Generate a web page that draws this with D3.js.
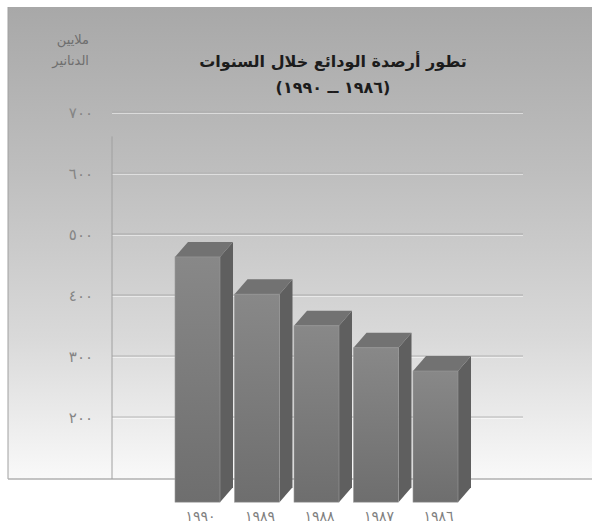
<!DOCTYPE html>
<html>
<head>
<meta charset="utf-8">
<script src="https://cdn.jsdelivr.net/npm/d3@7"></script>
<style>
  body { margin: 0; padding: 0; background: #fff; }
  text { font-family: "DejaVu Sans", sans-serif; }
</style>
</head>
<body>
<div id="chart"></div>
<script>
// data (millions of dinars)
const years = ["1986", "1987", "1988", "1989", "1990"];
const yearLabels = ["١٩٨٦", "١٩٨٧", "١٩٨٨", "١٩٨٩", "١٩٩٠"];
const deposits = [300, 338, 374, 426, 487];
const tickValues = [200, 300, 400, 500, 600, 700];
const tickLabels = ["٢٠٠", "٣٠٠", "٤٠٠", "٥٠٠", "٦٠٠", "٧٠٠"];
const titleLines = ["تطور أرصدة الودائع خلال السنوات", "(١٩٨٦ ــ ١٩٩٠)"];
const unitLines = ["ملايين", "الدنانير"];

const width = 592, height = 530;
const baseValue = 85;      // bars run down below the chart floor
const depthX = 13, depthY = 15;

const svg = d3.select('#chart').append('svg')
    .attr('width', width).attr('height', height);

const defs = svg.append('defs');
const bg = defs.append('linearGradient').attr('id', 'bg')
    .attr('x1', 0).attr('y1', 0).attr('x2', 0).attr('y2', 1);
bg.append('stop').attr('offset', '0%').attr('stop-color', '#a8a8a8');
bg.append('stop').attr('offset', '35%').attr('stop-color', '#bebebe');
bg.append('stop').attr('offset', '70%').attr('stop-color', '#d9d9d9');
bg.append('stop').attr('offset', '100%').attr('stop-color', '#f9f9f9');

const front = defs.append('linearGradient').attr('id', 'front')
    .attr('x1', 0).attr('y1', 0).attr('x2', 0).attr('y2', 1);
front.append('stop').attr('offset', '0%').attr('stop-color', '#888888');
front.append('stop').attr('offset', '100%').attr('stop-color', '#6e6e6e');

// x: right-to-left, 1990 on the left
const x = d3.scaleBand()
    .domain(years.slice().reverse())
    .range([175, 458])
    .paddingInner(0.2437)
    .paddingOuter(0);

const y = d3.scaleLinear().domain([200, 700]).range([417, 112]);

// panel
svg.append('rect')
    .attr('x', 8).attr('y', 7)
    .attr('width', width - 8).attr('height', 472)
    .attr('fill', 'url(#bg)');
svg.append('line')
    .attr('x1', 8).attr('x2', 8).attr('y1', 7).attr('y2', 479)
    .attr('stroke', '#a0a0a0');
svg.append('line')
    .attr('x1', 8).attr('x2', width).attr('y1', 479).attr('y2', 479)
    .attr('stroke', '#b0b0b0').attr('stroke-width', 1.5);

// gridlines
const grid = svg.append('g');
grid.selectAll('line.g')
    .data(tickValues)
    .enter().append('line')
    .attr('class', 'g')
    .attr('x1', 112).attr('x2', 523)
    .attr('y1', d => y(d)).attr('y2', d => y(d))
    .attr('stroke', '#9a9a9a')
    .attr('stroke-opacity', d => d >= 600 ? 0.3 : 0.65);
grid.selectAll('line.h')
    .data(tickValues)
    .enter().append('line')
    .attr('class', 'h')
    .attr('x1', 112).attr('x2', 523)
    .attr('y1', d => y(d) + 1.5).attr('y2', d => y(d) + 1.5)
    .attr('stroke', '#ffffff').attr('stroke-opacity', 0.5);

// y axis line
svg.append('line')
    .attr('x1', 112).attr('x2', 112)
    .attr('y1', y(660)).attr('y2', 479)
    .attr('stroke', '#a0a0a0');

// tick labels
svg.append('g').selectAll('text')
    .data(tickValues)
    .enter().append('text')
    .attr('x', 93)
    .attr('y', d => y(d) + 6)
    .attr('text-anchor', 'end')
    .attr('font-size', 15)
    .attr('fill', '#858585')
    .text((d, i) => tickLabels[i]);

// unit label (rtl: start = right edge)
svg.append('g').selectAll('text')
    .data(unitLines)
    .enter().append('text')
    .attr('x', 89)
    .attr('y', (d, i) => 44 + i * 21)
    .attr('text-anchor', 'start')
    .attr('font-size', 13)
    .attr('fill', '#6e6e6e')
    .attr('direction', 'rtl')
    .text(d => d);

// title
svg.append('g').selectAll('text')
    .data(titleLines)
    .enter().append('text')
    .attr('x', 333)
    .attr('y', (d, i) => 67 + i * 26)
    .attr('text-anchor', 'middle')
    .attr('font-size', 16)
    .attr('font-weight', 'bold')
    .attr('fill', '#1c1c1c')
    .attr('direction', 'rtl')
    .text(d => d);

// 3D bars
const rows = years.map((yr, i) => ({ year: yr, label: yearLabels[i], value: deposits[i] }));
const bars = svg.append('g').selectAll('g.bar')
    .data(rows)
    .enter().append('g')
    .attr('class', 'bar');

bars.each(function (d) {
    const g = d3.select(this);
    const x0 = x(d.year), w = x.bandwidth();
    const topB = y(d.value), botB = y(baseValue);
    const topF = topB + depthY, botF = botB + depthY;
    // side face
    g.append('path')
        .attr('d', `M${x0 + w},${topF}L${x0 + w + depthX},${topB}L${x0 + w + depthX},${botB}L${x0 + w},${botF}Z`)
        .attr('fill', '#5f5f5f');
    // top face
    g.append('path')
        .attr('d', `M${x0},${topF}L${x0 + depthX},${topB}L${x0 + w + depthX},${topB}L${x0 + w},${topF}Z`)
        .attr('fill', '#727272');
    // front face
    g.append('rect')
        .attr('x', x0).attr('y', topF)
        .attr('width', w).attr('height', botF - topF)
        .attr('fill', 'url(#front)')
        .attr('stroke', '#9a9a9a').attr('stroke-width', 0.6);
});

// category labels
svg.append('g').selectAll('text')
    .data(rows)
    .enter().append('text')
    .attr('x', d => x(d.year) + x.bandwidth() / 2 + 3)
    .attr('y', 521)
    .attr('text-anchor', 'middle')
    .attr('font-size', 14)
    .attr('fill', '#808080')
    .text(d => d.label);
</script>
</body>
</html>
